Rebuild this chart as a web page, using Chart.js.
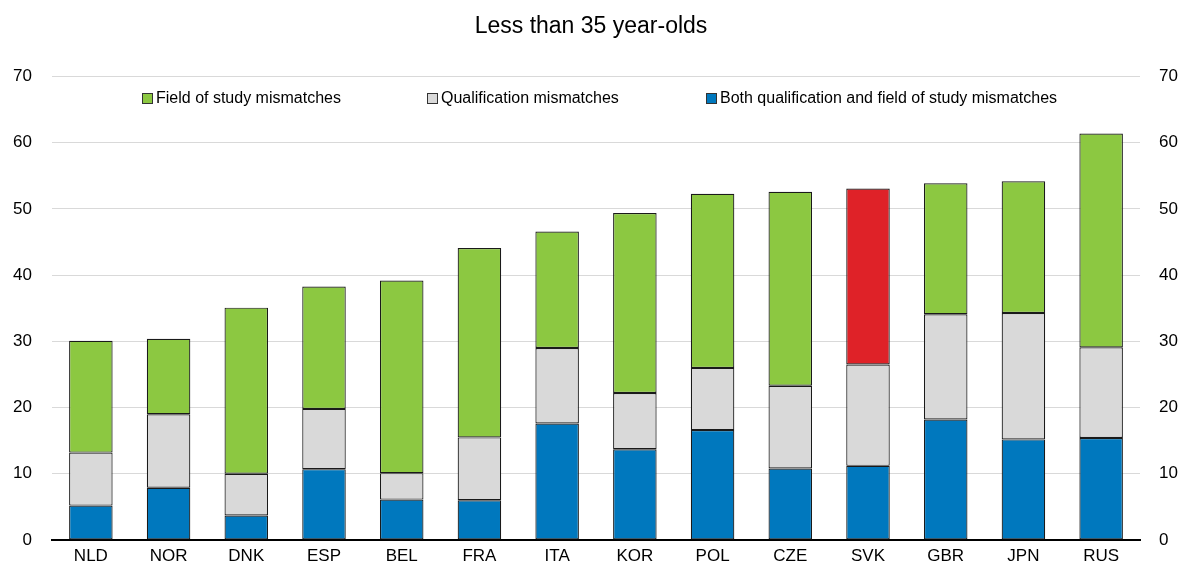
<!DOCTYPE html>
<html>
<head>
<meta charset="utf-8">
<script src="https://cdn.jsdelivr.net/npm/chart.js@4"></script>
<style>
  html, body { margin: 0; padding: 0; background: #fff; }
  #wrap { width: 1182px; height: 568px; position: relative; }
</style>
</head>
<body>
<div id="wrap"><canvas id="c" width="1182" height="568"></canvas></div>
<script>
const categories = ['NLD','NOR','DNK','ESP','BEL','FRA','ITA','KOR','POL','CZE','SVK','GBR','JPN','RUS'];
const bothMismatch = [5.2, 7.9, 3.7, 10.7, 6.1, 6.0, 17.6, 13.7, 16.6, 10.8, 11.2, 18.2, 15.2, 15.4];
const qualificationMismatch = [8.0, 11.1, 6.3, 9.1, 4.0, 9.5, 11.4, 8.5, 9.4, 12.5, 15.3, 15.9, 19.1, 13.7];
const fieldMismatch = [16.9, 11.4, 25.1, 18.5, 29.1, 28.6, 17.6, 27.2, 26.3, 29.3, 26.6, 19.8, 19.9, 32.3];
const yTicks = [0, 10, 20, 30, 40, 50, 60, 70];
const highlight = 'SVK';

const GREEN = '#8CC841', GREY = '#D9D9D9', BLUE = '#0078BE', RED = '#DF2228';
const FONT = '"Liberation Sans", Arial, sans-serif';

const fieldColors = categories.map(c => c === highlight ? RED : GREEN);

const legendItems = [
  { text: 'Field of study mismatches', color: GREEN, x: 142 },
  { text: 'Qualification mismatches', color: GREY, x: 427 },
  { text: 'Both qualification and field of study mismatches', color: BLUE, x: 706 }
];

const legendPlugin = {
  id: 'inAreaLegend',
  afterDatasetsDraw(chart) {
    const ctx = chart.ctx;
    ctx.save();
    ctx.font = '16px ' + FONT;
    ctx.textBaseline = 'middle';
    ctx.textAlign = 'left';
    const yc = 99;
    legendItems.forEach(it => {
      ctx.fillStyle = it.color;
      ctx.fillRect(it.x + 0.5, yc - 5.5, 10, 10);
      ctx.strokeStyle = '#333';
      ctx.lineWidth = 1;
      ctx.strokeRect(it.x + 0.5, yc - 5.5, 10, 10);
      ctx.fillStyle = '#000';
      ctx.fillText(it.text, it.x + 14, yc);
    });
    ctx.restore();
  }
};

const xTickFont = { family: FONT, size: 17 };
const yTickFont = { family: FONT, size: 17, lineHeight: 0.9 };

new Chart(document.getElementById('c'), {
  type: 'bar',
  data: {
    labels: categories,
    datasets: [
      { label: 'Both qualification and field of study mismatches', data: bothMismatch, backgroundColor: BLUE },
      { label: 'Qualification mismatches', data: qualificationMismatch, backgroundColor: GREY },
      { label: 'Field of study mismatches', data: fieldMismatch, backgroundColor: fieldColors }
    ]
  },
  options: {
    responsive: false,
    animation: false,
    devicePixelRatio: 1,
    layout: { padding: 0 },
    datasets: {
      bar: {
        borderColor: '#1a1a1a',
        borderWidth: 1.2,
        borderSkipped: false,
        categoryPercentage: 1,
        barPercentage: 0.56
      }
    },
    plugins: {
      legend: { display: false },
      tooltip: { enabled: false },
      title: {
        display: true,
        text: 'Less than 35 year-olds',
        color: '#000',
        font: { family: FONT, size: 23, weight: 'normal' },
        padding: { top: 13, bottom: 36 }
      }
    },
    scales: {
      x: {
        stacked: true,
        offset: true,
        grid: { display: false, drawTicks: false },
        border: { display: true, color: '#000', width: 2 },
        ticks: { color: '#000', font: xTickFont, padding: 6, maxRotation: 0 },
        afterFit(s) { s.height = 28; }
      },
      y: {
        stacked: true,
        position: 'left',
        min: 0, max: 70,
        afterBuildTicks(s) { s.ticks = yTicks.map(v => ({ value: v })); },
        grid: { color: '#D9D9D9', lineWidth: 1, drawTicks: false },
        border: { display: false },
        ticks: { color: '#000', font: yTickFont, padding: 20 },
        afterFit(s) { s.width = 52; }
      },
      y2: {
        position: 'right',
        min: 0, max: 70,
        afterBuildTicks(s) { s.ticks = yTicks.map(v => ({ value: v })); },
        grid: { display: false, drawTicks: false },
        border: { display: false },
        ticks: { color: '#000', font: yTickFont, padding: 19 },
        afterFit(s) { s.width = 42; }
      }
    }
  },
  plugins: [legendPlugin]
});
</script>
</body>
</html>
